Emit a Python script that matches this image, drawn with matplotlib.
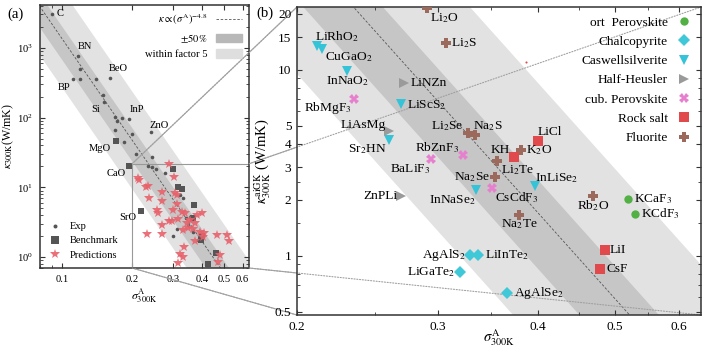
import numpy as np
import matplotlib
matplotlib.use("Agg")
import matplotlib.pyplot as plt
from matplotlib.patches import Rectangle, ConnectionPatch, Patch
from matplotlib.lines import Line2D
from matplotlib.ticker import FixedLocator, NullFormatter

plt.rcParams['font.family'] = ['Liberation Serif', 'DejaVu Serif']
plt.rcParams['mathtext.fontset'] = 'stix'

# fit kappa = A * sigma^-4.8
fit_A = 0.021
fit_exp = 4.8

# ---- panel (a) ----
exp_names = ['C', 'BN', '', 'BP', '', '', 'BeO', '', 'Si', '', '', '', 'InP', '',
             'ZnO', '', '', '', '', '', '', '', '', '', '', '', '', '', '', '', '', '']
exp_sigma = [0.0903, 0.1164, 0.1187, 0.1108, 0.1196, 0.1402, 0.161, 0.1497, 0.1507,
             0.1692, 0.1726, 0.1809, 0.1944, 0.1692, 0.2419, 0.1997, 0.1837, 0.2084,
             0.2436, 0.2336, 0.2436, 0.2529, 0.278, 0.3226, 0.3307, 0.3115, 0.3018,
             0.3423, 0.3573, 0.366, 0.349, 0.3855]
exp_kappa = [3064, 765, 493, 354, 361, 354, 370, 211, 169, 101, 89.4, 97.7, 95.5, 66.4,
             61.5, 57.6, 45.1, 30.0, 27.5, 20.2, 19.4, 18.1, 16.0, 7.76, 7.09, 2.50, 2.0,
             3.59, 3.79, 2.31, 2.88, 1.75]

bench_names = ['MgO', 'CaO', 'SrO', '', '', '', '', '', '', '', '', '']
bench_sigma = [0.1709, 0.1931, 0.2186, 0.300, 0.3172, 0.3275, 0.3696, 0.3652, 0.3993,
               0.3954, 0.4611, 0.4239]
bench_kappa = [45.7, 20.5, 4.65, 18.1, 10.2, 9.36, 5.63, 3.59, 2.0, 1.75, 1.16, 0.807]

pred_sigma = [0.2884, 0.2111, 0.2132, 0.2301, 0.2332, 0.3048, 0.2706, 0.2355, 0.3121,
              0.269, 0.314, 0.2575, 0.26, 0.3018, 0.328, 0.339, 0.3807, 0.4001, 0.3562,
              0.3447, 0.29, 0.3153, 0.269, 0.3502, 0.3333, 0.368, 0.3934, 0.4105, 0.4643,
              0.5128, 0.5246, 0.2318, 0.3743, 0.3357, 0.3226, 0.3307, 0.4797, 0.3153,
              0.4718, 0.2706, 0.4042, 0.3069, 0.2971, 0.3743]
pred_kappa = [21.5, 13.5, 12.7, 10.1, 10.4, 13.9, 8.48, 6.95, 7.76, 6.36, 5.76, 4.72,
              4.32, 4.72, 4.47, 4.24, 4.0, 4.24, 3.40, 3.04, 3.32, 3.47, 2.88, 2.58,
              2.44, 2.50, 2.31, 2.23, 2.10, 2.05, 1.70, 2.14, 1.70, 1.41, 1.10, 1.01,
              1.07, 0.82, 0.856, 2.14, 1.96, 8.2, 3.29, 3.04]

# ---- panel (b) ----
classes = ['ort  Perovskite', 'Chalcopyrite', 'Caswellsilverite', 'Half-Heusler',
           'cub. Perovskite', 'Rock salt', 'Fluorite']
orth_names = ['KCaF$_3$', 'KCdF$_3$']
orth_sigma = [0.519, 0.530]
orth_kappa = [2.02, 1.68]
chalco_names = ['AgAlS$_2$', 'LiInTe$_2$', 'LiGaTe$_2$', 'AgAlSe$_2$']
chalco_sigma = [0.329, 0.337, 0.320, 0.366]
chalco_kappa = [1.01, 1.01, 0.816, 0.627]
casw_names = ['LiRhO$_2$', 'CuGaO$_2$', 'InNaO$_2$', 'LiScS$_2$', 'Sr$_2$HN',
              'InNaSe$_2$', 'InLiSe$_2$']
casw_sigma = [0.212, 0.215, 0.231, 0.270, 0.261, 0.335, 0.397]
casw_kappa = [13.5, 13.0, 9.9, 6.53, 4.20, 2.25, 2.37]
hh_names = ['LiNZn', 'LiAsMg', 'ZnPLi']
hh_sigma = [0.272, 0.261, 0.270]
hh_kappa = [8.47, 4.70, 2.09]
cub_names = ['RbMgF$_3$', 'RbZnF$_3$', 'BaLiF$_3$', 'CsCdF$_3$']
cub_sigma = [0.236, 0.323, 0.294, 0.351]
cub_kappa = [6.97, 3.49, 3.30, 2.32]
rock_names = ['LiCl', 'KH', 'LiI', 'CsF']
rock_sigma = [0.4005, 0.374, 0.485, 0.479]
rock_kappa = [4.15, 3.40, 1.073, 0.847]
fluo_names = ['Li$_2$O', 'Li$_2$S', 'Li$_2$Se', 'Na$_2$S', 'Na$_2$Se', 'K$_2$O',
              'Li$_2$Te', 'Rb$_2$O', 'Na$_2$Te']
fluo_sigma = [0.291, 0.307, 0.327, 0.334, 0.354, 0.381, 0.356, 0.469, 0.379]
fluo_kappa = [21.5, 14.0, 4.55, 4.45, 2.64, 3.69, 3.25, 2.09, 1.65]
stray_sigma = [0.387]
stray_kappa = [11.05]

# label placement (ha, dx px, dy px)
lab_a = {'C': ('left', 4, 0), 'BN': ('center', 7, 9), 'BP': ('center', -9, -8),
         'BeO': ('center', 8, 9), 'Si': ('center', -8, -8), 'InP': ('center', 8, 9),
         'ZnO': ('center', 8, 7), 'MgO': ('center', -16, -7), 'CaO': ('center', -12, -8),
         'SrO': ('center', -13, -7)}
lab_b = {'Li$_2$O': ('left', 3, -10), 'Li$_2$S': ('left', 5, 0),
         'LiRhO$_2$': ('center', 20, 9), 'CuGaO$_2$': ('left', 3, -8),
         'InNaO$_2$': ('center', 0, -10), 'LiNZn': ('left', 7, 0),
         'RbMgF$_3$': ('right', -3, -9), 'LiScS$_2$': ('left', 6, -1),
         'LiAsMg': ('right', -4, 6), 'Sr$_2$HN': ('right', -3, -9),
         'Li$_2$Se': ('right', -4, 7), 'Na$_2$S': ('left', -2, 9),
         'RbZnF$_3$': ('right', -4, 7), 'BaLiF$_3$': ('right', 0, -10),
         'Na$_2$Se': ('right', -5, 0), 'InNaSe$_2$': ('right', 0, -10),
         'CsCdF$_3$': ('left', 3, -10), 'ZnPLi': ('right', -4, 0),
         'AgAlS$_2$': ('right', -4, 0), 'LiInTe$_2$': ('left', 7, 0),
         'LiGaTe$_2$': ('right', -5, 0), 'AgAlSe$_2$': ('left', 7, 0),
         'LiCl': ('left', -1, 9), 'KH': ('right', -5, 7), 'K$_2$O': ('left', 5, 0),
         'Li$_2$Te': ('left', 4, -9), 'InLiSe$_2$': ('left', 0, 8),
         'Rb$_2$O': ('center', 0, -9), 'KCaF$_3$': ('left', 6, 0),
         'KCdF$_3$': ('left', 6, 0), 'Na$_2$Te': ('center', 0, -9),
         'LiI': ('left', 5, 0), 'CsF': ('left', 6, 0)}

light = '#e2e2e2'
dark = '#c6c6c6'
spine_c = '#333333'

fig = plt.figure(figsize=(7.02, 3.47), dpi=100)
ax1 = fig.add_axes([40 / 702, 79 / 347, 209 / 702, 263 / 347])
ax2 = fig.add_axes([297 / 702, 32 / 347, 404 / 702, 308 / 347])

sg = np.geomspace(0.03, 1.0, 300)
fit = fit_A * sg ** -fit_exp
for ax in (ax1, ax2):
    ax.set_xscale('log')
    ax.set_yscale('log')
    ax.fill_between(sg, fit / 5, fit * 5, color=light, lw=0, zorder=0)
    ax.fill_between(sg, fit * 0.5, fit * 1.5, color=dark, lw=0, zorder=0.5)
    ax.plot(sg, fit, ls=(0, (3, 2)), color='#555555', lw=0.6, zorder=1)
    for s in ax.spines.values():
        s.set_color(spine_c)
        s.set_linewidth(1.1)
    ax.tick_params(which='both', direction='in', top=True, right=True, color=spine_c)

# ---- (a) ----
fs_a = 7.6
ax1.set_xlim(0.08, 0.64)
ax1.set_ylim(0.7, 4100)
ax1.plot(exp_sigma, exp_kappa, 'o', color='#555555', ms=2.6, mew=0, zorder=3, label='Exp')
ax1.plot(bench_sigma, bench_kappa, 's', color='#555555', ms=5, mew=0, zorder=3,
         label='Benchmark')
ax1.plot(pred_sigma, pred_kappa, '*', color='#e8626b', ms=7, mew=0, alpha=0.9, zorder=4,
         label='Predictions')
for n, s, k in list(zip(exp_names, exp_sigma, exp_kappa)) + list(zip(bench_names, bench_sigma, bench_kappa)):
    if n:
        ha, dx, dy = lab_a[n]
        ax1.annotate(n, (s, k), xytext=(dx, dy), textcoords='offset pixels', ha=ha,
                     va='center', fontsize=fs_a, zorder=5)
ax1.add_patch(Rectangle((0.2, 0.48), 0.44, 21.8 - 0.48, fill=False, ec='#999999', lw=0.8,
                        zorder=2))
ax1.set_xticks([0.1, 0.2, 0.3, 0.4, 0.5, 0.6])
ax1.set_xticklabels(['0.1', '0.2', '0.3', '0.4', '0.5', '0.6'])
ax1.xaxis.set_minor_formatter(NullFormatter())
ax1.tick_params(labelsize=fs_a, pad=5)
ax1.set_xlabel(r'$\sigma^{\mathrm{A}}_{300\mathrm{K}}$', fontsize=fs_a + 1, labelpad=2)
ax1.set_ylabel(r'$\kappa_{300\mathrm{K}}$(W/mK)', fontsize=fs_a + 1, labelpad=1)

h_fit = [Line2D([], [], ls=(0, (3, 2)), color='#555555', lw=0.6),
         Patch(color='#b8b8b8'), Patch(color='#dedede')]
leg1 = ax1.legend(h_fit, [r'$\kappa \propto (\sigma^{\mathrm{A}})^{-4.8}$', r'$\pm 50\,\%$',
                          'within factor 5'],
                  loc='upper right', frameon=False, markerfirst=False, fontsize=fs_a,
                  handlelength=2.4, handleheight=0.9, labelspacing=0.45,
                  borderaxespad=0.3)
ax1.add_artist(leg1)
ax1.legend(loc='lower left', frameon=False, fontsize=fs_a, handlelength=1.2,
           labelspacing=0.45, borderaxespad=0.4, markerscale=1.1)

# ---- (b) ----
fs_b = 9.6
ax2.set_xlim(0.2, 0.64)
ax2.set_ylim(0.48, 21.8)
groups = [(orth_names, orth_sigma, orth_kappa, 'o', '#52b045', 6),
          (chalco_names, chalco_sigma, chalco_kappa, 'D', '#3ec8d8', 6.5),
          (casw_names, casw_sigma, casw_kappa, 'v', '#35c3d8', 7.5),
          (hh_names, hh_sigma, hh_kappa, '>', '#9a9a9a', 7),
          (cub_names, cub_sigma, cub_kappa, 'X', '#e77fcf', 7),
          (rock_names, rock_sigma, rock_kappa, 's', '#e04a4c', 7.5),
          (fluo_names, fluo_sigma, fluo_kappa, 'P', '#9b6a5c', 7)]
for lab, (names, sig, kap, m, c, ms) in zip(classes, groups):
    ax2.plot(sig, kap, m, color=c, ms=ms, mew=0, zorder=4, label=lab)
    for n, s, k in zip(names, sig, kap):
        ha, dx, dy = lab_b[n]
        ax2.annotate(n, (s, k), xytext=(dx, dy), textcoords='offset pixels', ha=ha,
                     va='center', fontsize=fs_b, zorder=5)
ax2.plot(stray_sigma, stray_kappa, 'o', color='#e04a4c', ms=1.5, mew=0, zorder=4)

ax2.set_xticks([0.2, 0.3, 0.4, 0.5, 0.6])
ax2.set_xticklabels(['0.2', '0.3', '0.4', '0.5', '0.6'])
ax2.xaxis.set_minor_locator(FixedLocator([0.25, 0.35, 0.45, 0.55]))
ax2.xaxis.set_minor_formatter(NullFormatter())
yt = [0.5, 1, 2, 3, 4, 5, 10, 15, 20]
ax2.set_yticks(yt)
ax2.set_yticklabels(['0.5', '1', '2', '3', '4', '5', '10', '15', '20'])
ax2.yaxis.set_minor_locator(FixedLocator([0.6, 0.7, 0.8, 0.9, 1.5, 2.5, 6, 7, 8, 9]))
ax2.yaxis.set_minor_formatter(NullFormatter())
ax2.tick_params(labelsize=fs_b, pad=4)
ax2.set_xlabel(r'$\sigma^{\mathrm{A}}_{300\mathrm{K}}$', fontsize=fs_b + 1, labelpad=-4)
ax2.set_ylabel(r'$\kappa^{\mathrm{aiGK}}_{300\mathrm{K}}$ (W/mK)', fontsize=fs_b + 1,
               labelpad=1)
ax2.legend(loc='upper right', frameon=False, markerfirst=False, fontsize=fs_b,
           handlelength=1.2, labelspacing=0.52, borderaxespad=0.3, handletextpad=0.6)

# zoom connectors: solid outside (b), dotted inside (b)
corners = [((0.2, 21.8), (0.2, 21.8)), ((0.64, 21.8), (0.64, 21.8)),
           ((0.2, 0.7), (0.2, 0.48)), ((0.64, 0.7), (0.64, 0.48))]
for pa, pb in corners:
    con = ConnectionPatch(pa, pb, coordsA='data', coordsB='data', axesA=ax1, axesB=ax2,
                          color='#a8a8a8', lw=0.8, zorder=2)
    con.set_clip_on(False)
    ax1.add_artist(con)
    con2 = ConnectionPatch(pa, pb, coordsA='data', coordsB='data', axesA=ax1, axesB=ax2,
                           color='#a0a0a0', lw=0.8, ls=(0, (1, 1.5)), zorder=1.5)
    ax2.add_artist(con2)
    con2.set_clip_path(ax2.patch)

fig.text(15 / 702, 1 - 14 / 347, '(a)', fontsize=fs_b + 1, ha='center', va='center')
fig.text(265 / 702, 1 - 13 / 347, '(b)', fontsize=fs_b + 1, ha='center', va='center')

fig.savefig('out.png', dpi=100)
